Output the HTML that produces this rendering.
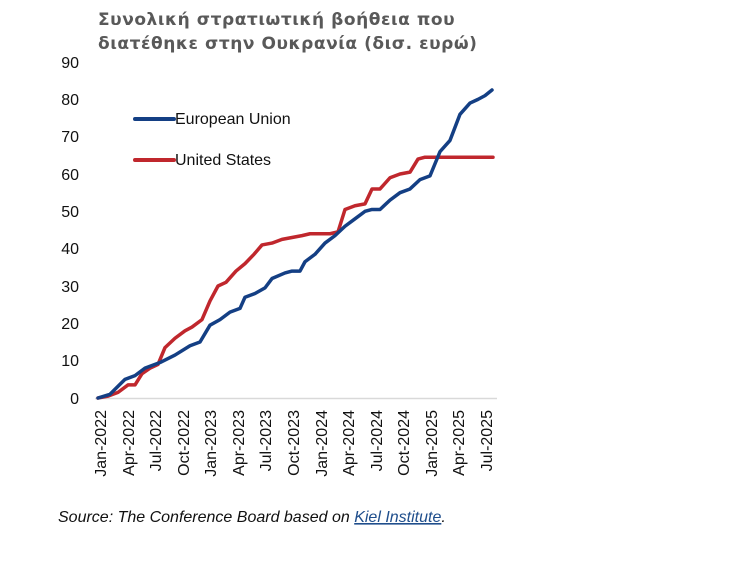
<!DOCTYPE html>
<html><head><meta charset="utf-8"><style>
body{margin:0;background:#fff;width:752px;height:556px;overflow:hidden;font-family:"Liberation Sans",sans-serif}
</style></head><body>
<svg width="752" height="556" xmlns="http://www.w3.org/2000/svg">
<text x="98" y="25" font-family="DejaVu Sans, sans-serif" font-weight="bold" font-size="17" fill="#595959" letter-spacing="0.55">Συνολική στρατιωτική βοήθεια που</text>
<text x="98" y="49" font-family="DejaVu Sans, sans-serif" font-weight="bold" font-size="17" fill="#595959" letter-spacing="0.55">διατέθηκε στην Ουκρανία (δισ. ευρώ)</text>
<g font-size="16" fill="#111" text-anchor="end" font-family="Liberation Sans, sans-serif">
<text x="79" y="68">90</text><text x="79" y="105">80</text><text x="79" y="142">70</text><text x="79" y="180">60</text><text x="79" y="217">50</text><text x="79" y="254">40</text><text x="79" y="292">30</text><text x="79" y="329">20</text><text x="79" y="366">10</text><text x="79" y="404">0</text>
</g>
<line x1="95" y1="398.5" x2="497" y2="398.5" stroke="#d9d9d9" stroke-width="1.5"/>
<g font-size="16" fill="#111" text-anchor="end" font-family="Liberation Sans, sans-serif">
<text transform="translate(106,410) rotate(-90)">Jan-2022</text>
<text transform="translate(134,410) rotate(-90)">Apr-2022</text>
<text transform="translate(161,410) rotate(-90)">Jul-2022</text>
<text transform="translate(189,410) rotate(-90)">Oct-2022</text>
<text transform="translate(216,410) rotate(-90)">Jan-2023</text>
<text transform="translate(244,410) rotate(-90)">Apr-2023</text>
<text transform="translate(271,410) rotate(-90)">Jul-2023</text>
<text transform="translate(299,410) rotate(-90)">Oct-2023</text>
<text transform="translate(327,410) rotate(-90)">Jan-2024</text>
<text transform="translate(354,410) rotate(-90)">Apr-2024</text>
<text transform="translate(382,410) rotate(-90)">Jul-2024</text>
<text transform="translate(409,410) rotate(-90)">Oct-2024</text>
<text transform="translate(437,410) rotate(-90)">Jan-2025</text>
<text transform="translate(464,410) rotate(-90)">Apr-2025</text>
<text transform="translate(492,410) rotate(-90)">Jul-2025</text>
</g>
<g transform="translate(0,398) scale(1,-3.733)" fill="none" stroke-linejoin="round" stroke-linecap="round">
<polyline vector-effect="non-scaling-stroke" stroke="#c0272d" stroke-width="3.5" points="98,0 108,0.5 118,1.5 128,3.5 135,3.5 142,6.5 150,8 158,9 165,13.5 175,16 185,18 192,19 202,21 210,26 218,30 226,31 236,34 245,36 254,38.5 262,41 272,41.5 282,42.5 292,43 302,43.5 310,44 330,44 338,44.5 345,50.5 355,51.5 365,52 372,56 380,56 390,59 400,60 410,60.5 418,64 425,64.5 435,64.5 493,64.5"/>
<polyline vector-effect="non-scaling-stroke" stroke="#143f84" stroke-width="3.5" points="98,0 110,1 125,5 135,6 145,8 160,9.5 175,11.5 190,14 200,15 210,19.5 220,21 230,23 240,24 245,27 255,28 265,29.5 272,32 285,33.5 292,34 300,34 305,36.5 315,38.5 325,41.5 335,43.5 345,46 355,48 365,50 372,50.5 380,50.5 390,53 400,55 410,56 420,58.5 430,59.5 440,66 450,69 460,76 470,79 478,80 485,81 492,82.5"/>
</g>
<line x1="135" y1="119" x2="174" y2="119" stroke="#143f84" stroke-width="4" stroke-linecap="round"/>
<text x="175" y="124" font-size="16" fill="#111">European Union</text>
<line x1="135" y1="160" x2="174" y2="160" stroke="#c0272d" stroke-width="4" stroke-linecap="round"/>
<text x="175" y="165" font-size="16" fill="#111">United States</text>
<text x="58" y="522" font-size="16" font-style="italic" fill="#111">Source: The Conference Board based on <tspan fill="#1f4e8c" text-decoration="underline">Kiel Institute</tspan>.</text>
</svg>
</body></html>
